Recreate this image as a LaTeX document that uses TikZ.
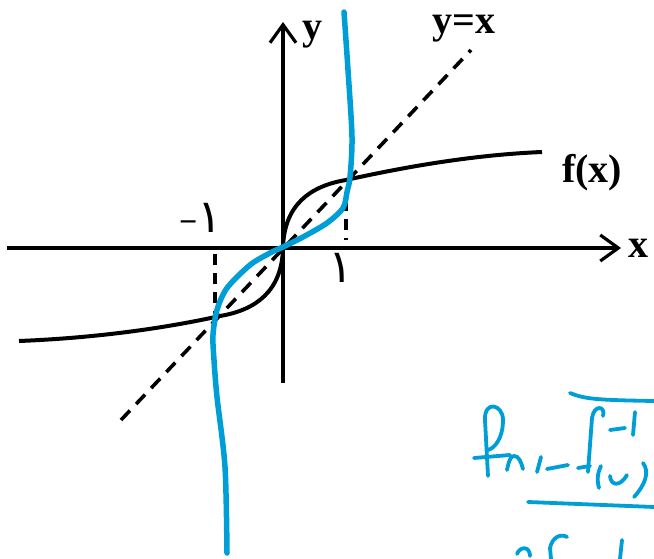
\documentclass[tikz,border=0pt]{standalone}
\usepackage{fontspec}
\setmainfont{Liberation Serif}
\newfontfamily\arabicfont[Script=Arabic]{DejaVu Sans}
\usetikzlibrary{arrows.meta}
\definecolor{inkblue}{RGB}{0,158,214}
\begin{document}
\begin{tikzpicture}[x=1pt,y=-1pt,
  axisline/.style={line width=3.2pt,-{Straight Barb[length=18pt,width=26pt,line width=3.2pt]}},
  curveline/.style={line width=4pt},
  dashline/.style={line width=3.6pt,dash pattern=on 13pt off 9pt},
  inkline/.style={inkblue,line width=5.5pt,line cap=round,line join=round},
  hand/.style={inkblue,line width=3.8pt,line cap=round,line join=round},
  lbl/.style={font=\fontsize{40}{40}\selectfont\bfseries,inner sep=0pt,anchor=base},
  digit/.style={font=\arabicfont\fontsize{46}{46}\selectfont,inner sep=0pt,anchor=base}]
\useasboundingbox (0,0) rectangle (654,559);
% coordinates
\coordinate (O) at (283,248);
\coordinate (xs) at (7,248);
\coordinate (xe) at (621,248);
\coordinate (ys) at (283,383);
\coordinate (ye) at (283,22);
\coordinate (ds) at (121,420);
\coordinate (de) at (471,50);
\coordinate (p1) at (346,180);
\coordinate (m1) at (220,316);
\coordinate (fr) at (542,152);
\coordinate (fl) at (19,341);
\coordinate (v1t) at (346,200);
\coordinate (v1b) at (346,240);
\coordinate (v2t) at (215,254);
\coordinate (v2b) at (215,318);
% axes
\draw[axisline] (xs) -- (xe);
\draw[axisline] (ys) -- (ye);
% y = x
\draw[dashline] (ds) -- (de);
% dashed verticals
\draw[dashline,dash pattern=on 11pt off 8pt] (v1t) -- (v1b);
\draw[dashline,dash pattern=on 11pt off 8pt] (v2t) -- (v2b);
% f(x)
\draw[curveline] (O) .. controls (284,205) and (310,186) .. (p1)
  .. controls (400,168) and (470,155) .. (fr);
\draw[curveline] (O) .. controls (282,291) and (256,310) .. (m1)
  .. controls (166,328) and (96,338) .. (fl);
% labels
\node[lbl] (ylab) at (312,40) {y};
\node[lbl] (xlab) at (638,258) {x};
\node[lbl] (yxlab) at (464,34) {y=x};
\node[lbl] (flab) at (592,183) {f(x)};
\node[inner sep=0pt,anchor=base west] (mone) at (179,233) {{\fontsize{32}{32}\selectfont\bfseries −}{\arabicfont\fontsize{46}{46}\selectfont ۱}};
\node[digit] (one) at (341,283) {۱};
% blue inverse curve
\draw[inkline] plot[smooth,tension=0.5] coordinates {(344,12) (348,70) (352,137) (350,177) (347,192) (343,208) (327,223) (303,237) (283,247) (270,253) (250,265) (227,288) (217,310) (213,335) (214,360) (217,397) (225,467) (227,553)};
% handwriting
\draw[hand] (570,393) .. controls (585,399) and (595,400) .. (654,401);
\draw[hand] (488,476) -- (485,420) .. controls (484,400) and (503,404) .. (503,420) .. controls (503,438) and (495,448) .. (488,450);
\draw[hand] (474,458) -- (510,455);
\draw[hand] (507,470) .. controls (509,460) and (511,456) .. (514,456) .. controls (519,456) and (521,462) .. (523,469);
\draw[hand] (537,472) -- (541,457);
\draw[hand] (547,469) -- (568,465);
\draw[hand] (588,472) -- (592,418) .. controls (594,404) and (606,406) .. (603,416);
\draw[hand] (578,468) -- (590,466);
\draw[hand] (610,430) -- (625,428);
\draw[hand] (635,412) -- (633,435);
\draw[hand] (601,466) .. controls (597,474) and (597,482) .. (599,488);
\draw[hand] (610,476) .. controls (611,486) and (620,487) .. (627,475);
\draw[hand] (643,463) .. controls (650,472) and (645,485) .. (634,497);
\draw[hand] (528,502) -- (654,507);
\draw[hand] (517,554) .. controls (520,546) and (530,546) .. (530,556);
\draw[hand] (567,537) .. controls (560,533) and (552,538) .. (550,548) -- (551,559);
\draw[hand] (622,540) -- (620,559);
\end{tikzpicture}
\end{document}
